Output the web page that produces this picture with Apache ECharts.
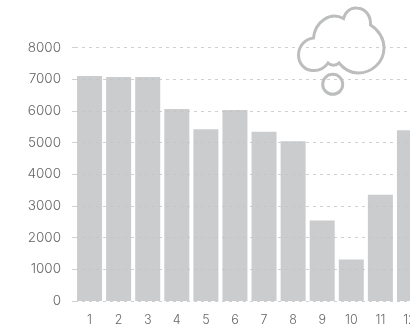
<!DOCTYPE html>
<html><head><meta charset="utf-8">
<style>html,body{margin:0;padding:0;background:#fff;overflow:hidden}#c{width:410px;height:328px}</style>
<script src="https://cdn.jsdelivr.net/npm/echarts@6/dist/echarts.min.js"></script>
</head><body><div id="c"></div>
<script>
const categories = ['1','2','3','4','5','6','7','8','9','10','11','12'];
const values = [7100,7070,7070,6060,5420,6030,5340,5040,2540,1310,3350,5390];
const yMax = 8000, yStep = 1000;
const chart = echarts.init(document.getElementById('c'), null, {renderer:'canvas'});
const font = 'Inter';
const cloudPath = 'M313.5 38 C315 22 330 11 343.5 18.5 C346 10 352 7.5 357 8 C365 8.5 371 15 370.5 25 C379 30 384 39 384 48 C384 62 372 73 358 73 C350 73 344 69 339 63 C336 66 331 66 328 63 C324 69 318 71 312 70.5 C304 70 298.5 63 298.5 55 C298.5 46 305 39 313.5 38 Z';
chart.setOption({
  animation:false,
  grid:{left:75,width:349,top:47.5,height:253.5,outerBoundsMode:'none'},
  xAxis:{type:'category',data:categories,
    axisLine:{show:false},axisTick:{show:false},
    axisLabel:{color:'#666',fontFamily:font,fontWeight:300,fontSize:12.5,margin:13,interval:0,hideOverlap:false}},
  yAxis:{type:'value',min:0,max:yMax,interval:yStep,
    axisLine:{show:false},
    axisTick:{show:true,length:3,lineStyle:{color:'#d0d0d0',width:1}},
    axisLabel:{color:'#666',fontFamily:font,fontWeight:300,fontSize:13.5,margin:14,formatter:function(v){return String(v);}},
    splitLine:{show:true,lineStyle:{color:'#d0d0d0',type:[3,4],width:1}}},
  series:[
    {type:'bar',data:values,barCategoryGap:'14%',itemStyle:{color:'#c2c3c4',opacity:0.85}},
    {type:'custom',coordinateSystem:'none',data:[[0]],silent:true,z:10,clip:false,
     renderItem:function(){
       return {type:'group',children:[
         {type:'path',shape:{pathData:cloudPath},style:{fill:'none',stroke:'#bcbdbe',lineWidth:3}},
         {type:'circle',shape:{cx:332.7,cy:84.3,r:10},style:{fill:'none',stroke:'#bcbdbe',lineWidth:3}}
       ]};
     }}
  ]
});
</script></body></html>
